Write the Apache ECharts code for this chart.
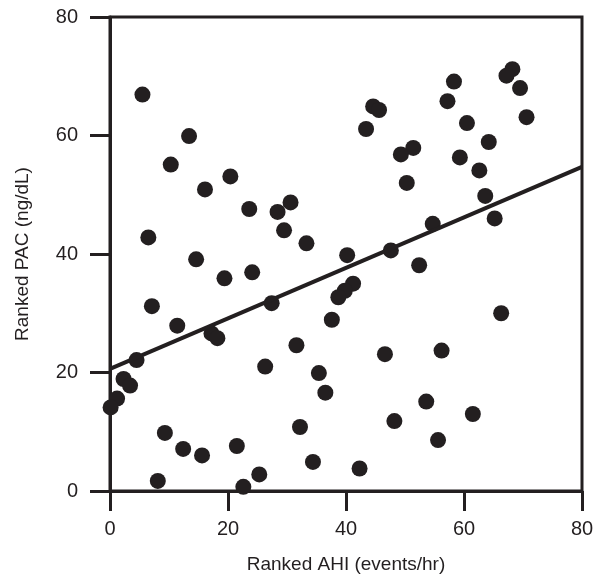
<!DOCTYPE html>
<html>
<head>
<meta charset="utf-8">
<script src="https://cdn.jsdelivr.net/npm/echarts@6/dist/echarts.min.js"></script>
<style>html,body{margin:0;padding:0;background:#fff}#c{width:602px;height:587px}</style>
</head>
<body>
<div id="c"></div>
<script>
const rankedAHI = [5.5,13.4,10.3,20.4,16.1,23.6,28.4,30.6,29.5,33.3,6.5,14.6,44.6,45.6,43.4,58.3,57.2,68.2,67.2,69.5,70.6,60.5,64.2,51.4,49.3,59.3,62.6,50.3,63.6,65.2,54.7,47.6,40.2,52.4,19.4,24.1,7.1,11.4,17.2,18.2,27.4,41.2,39.8,38.7,37.6,4.5,2.3,3.4,1.2,0.1,31.6,26.3,35.4,36.5,32.2,34.4,9.3,12.4,15.6,21.5,25.3,22.6,8.1,66.3,46.6,56.2,53.6,61.5,48.2,55.6,42.3];
const rankedPAC = [66.9,59.9,55.1,53.1,50.9,47.6,47.1,48.7,44.0,41.8,42.8,39.1,64.9,64.3,61.1,69.1,65.8,71.2,70.1,68.0,63.1,62.1,58.9,57.9,56.8,56.3,54.1,52.0,49.8,46.0,45.1,40.6,39.8,38.1,35.9,36.9,31.2,27.9,26.6,25.8,31.7,35.0,33.8,32.7,28.9,22.1,18.9,17.8,15.6,14.1,24.6,21.0,19.9,16.6,10.8,4.9,9.8,7.1,6.0,7.6,2.8,0.7,1.7,30.0,23.1,23.7,15.1,13.0,11.8,8.6,3.8];
const fitX = [0, 80];
const fitY = [20.6, 54.7];
const xTicks = [0, 20, 40, 60, 80];
const yTicks = [0, 20, 40, 60, 80];

const chart = echarts.init(document.getElementById('c'), null, {renderer: 'canvas'});
const ink = '#231f20';
const font = 'Liberation Sans, Arial, sans-serif';
const axisCommon = {
  min: 0, max: 80, interval: 20,
  axisLine: {show: true, onZero: false, lineStyle: {color: ink, width: 3}},
  axisTick: {show: true, inside: false, length: 20, lineStyle: {color: ink, width: 3}},
  splitLine: {show: false},
  nameLocation: 'middle',
  nameTextStyle: {color: ink, fontSize: 19, fontFamily: font},
};
chart.setOption({
  backgroundColor: '#fff',
  animation: false,
  grid: {left: 110, right: 20, top: 17, bottom: 96, show: true, borderColor: ink, borderWidth: 3},
  xAxis: Object.assign({}, axisCommon, {
    type: 'value',
    name: 'Ranked AHI (events/hr)',
    nameGap: 64,
    axisLabel: {color: ink, fontSize: 20, fontFamily: font, margin: 28,
      formatter: v => xTicks.includes(v) ? String(v) : ''}
  }),
  yAxis: Object.assign({}, axisCommon, {
    type: 'value',
    name: 'Ranked PAC (ng/dL)',
    nameGap: 78,
    axisLabel: {color: ink, fontSize: 20, fontFamily: font, margin: 32,
      formatter: v => yTicks.includes(v) ? String(v) : ''}
  }),
  series: [
    {
      type: 'scatter',
      data: rankedAHI.map((x, i) => [x, rankedPAC[i]]),
      symbol: 'circle',
      symbolSize: 16,
      itemStyle: {color: ink, opacity: 1},
      z: 3
    },
    {
      type: 'line',
      data: fitX.map((x, i) => [x, fitY[i]]),
      symbol: 'none',
      lineStyle: {color: ink, width: 4},
      z: 4
    }
  ]
});
</script>
</body>
</html>
